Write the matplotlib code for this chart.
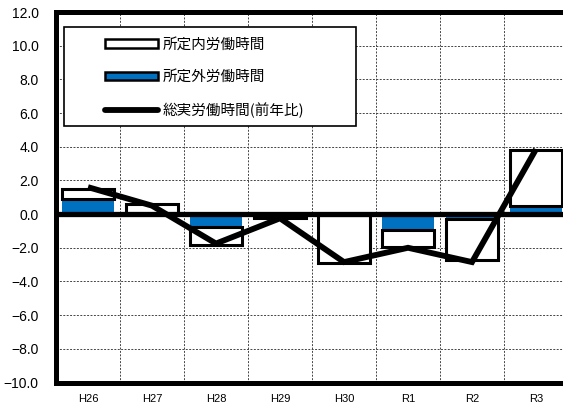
import numpy as np
import matplotlib.pyplot as plt
from matplotlib.patches import Rectangle
from matplotlib.lines import Line2D

plt.rcParams['font.family'] = ['Noto Sans CJK JP', 'DejaVu Sans']

# dados
anos = ['H26', 'H27', 'H28', 'H29', 'H30', 'R1', 'R2', 'R3']
shoteinai = [0.6, 0.6, -1.1, -0.2, -2.85, -1.0, -2.45, 3.3]      # 所定内
shoteigai = [0.9, 0.0, -0.75, -0.05, -0.05, -0.95, -0.3, 0.5]    # 所定外
soujitsu = [1.6, 0.5, -1.75, -0.25, -2.85, -2.0, -2.85, 3.85]    # 総実(前年比)
y_ticks = np.arange(-10, 13, 2)

azul = '#0070C0'

fig = plt.figure(figsize=(5.63, 4.12), dpi=100)
ax = fig.add_axes([56 / 563, 1 - 382.5 / 412, 512 / 563, 370.5 / 412])

x = np.arange(len(anos))

# barras empilhadas (azul embaixo, branco por cima)
ax.bar(x, shoteigai, width=0.8, color=azul, linewidth=0, zorder=2)
ax.bar(x, shoteinai, width=0.8, bottom=shoteigai, color='white',
       edgecolor='black', linewidth=2.2, zorder=2)

# linha do zero
ax.axhline(0, color='black', linewidth=3.8, zorder=3)

# linha total
ax.plot(x, soujitsu, color='black', linewidth=4.2, solid_capstyle='butt',
        solid_joinstyle='miter', zorder=4)

ax.set_xlim(-0.5, len(anos) - 0.5)
ax.set_ylim(-10, 12)
ax.set_yticks(y_ticks)
ax.set_yticklabels([f'{v:.1f}'.replace('-', '\u2212') for v in y_ticks],
                   family='Liberation Sans', fontsize=10)
ax.set_xticks(x)
ax.set_xticklabels(anos, family='Liberation Sans', fontsize=8)
ax.tick_params(axis='y', length=0, pad=12.5)
ax.tick_params(axis='x', length=0, pad=8)

# grade tracejada
for v in y_ticks[1:-1]:
    ax.axhline(v, color='#444444', linewidth=0.7, linestyle=(0, (2, 1.5)), zorder=1)
for b in np.arange(0.5, len(anos) - 0.5, 1):
    ax.axvline(b, color='#444444', linewidth=0.7, linestyle=(0, (2, 1.5)), zorder=1)

for s in ['left', 'top', 'bottom', 'right']:
    ax.spines[s].set_linewidth(3.6)
    ax.spines[s].set_zorder(5)

# legenda com moldura manual
ax.add_patch(Rectangle(((64 - 56) / 512, (382.5 - 126) / 370.5),
                       (356 - 64) / 512, (126 - 27) / 370.5,
                       transform=ax.transAxes, facecolor='white',
                       edgecolor='black', linewidth=1.2, zorder=6))

handles = [
    Rectangle((0, 0), 1, 1, facecolor='white', edgecolor='black', linewidth=1.8),
    Rectangle((0, 0), 1, 1, facecolor=azul, edgecolor='black', linewidth=1.8),
    Line2D([0], [0], color='black', linewidth=4.2, solid_capstyle='round'),
]
labels = ['所定内労働時間', '所定外労働時間', '総実労働時間(前年比)']
leg = ax.legend(handles, labels, loc='center left',
                bbox_to_anchor=((105 - 56) / 512, (382.5 - 77.7) / 370.5),
                frameon=False, fontsize=10.5, handlelength=3.6, handleheight=0.5,
                handletextpad=0.35, labelspacing=1.25, borderpad=0,
                borderaxespad=0)
leg.set_zorder(7)

fig.savefig('out.png', dpi=100, facecolor='white')
